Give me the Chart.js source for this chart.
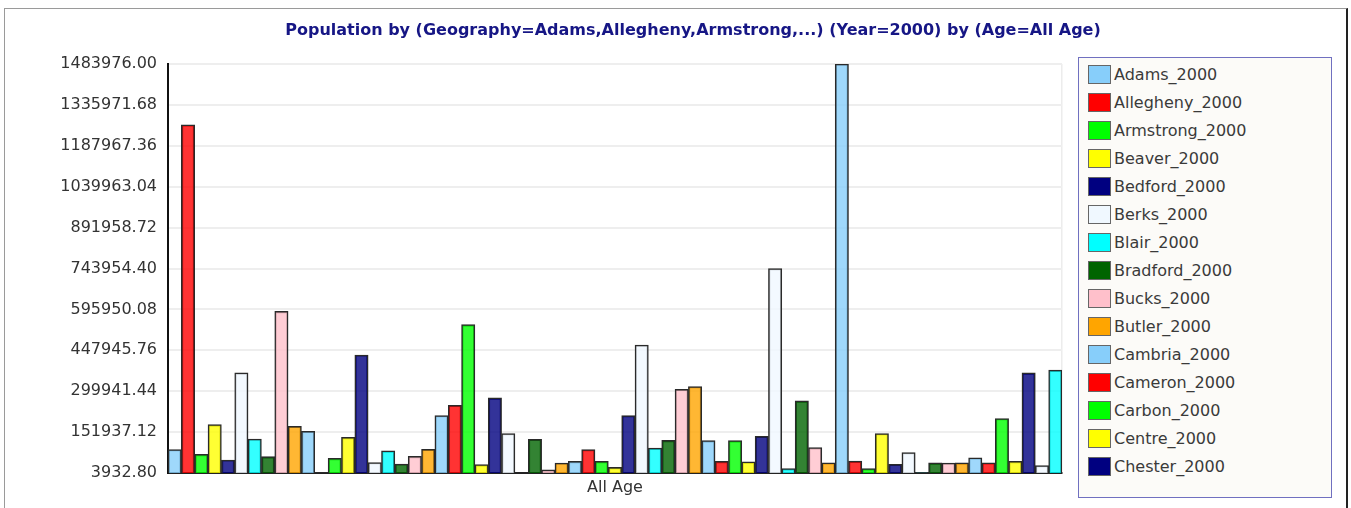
<!DOCTYPE html>
<html lang="en">
<head>
  <meta charset="UTF-8">
  <title>Population by Geography</title>
  <script src="https://cdn.jsdelivr.net/npm/chart.js"></script>
  <style>
    body { margin: 0; background: #fff; font-family: "DejaVu Sans", sans-serif; }
    .frame {
      position: absolute; left: 4px; top: 8px; width: 1341px; height: 500px;
      border-top: 1px solid #9a9a9a; border-left: 1px solid #9a9a9a; border-right: 2px solid #222;
    }
    #chart { position: absolute; left: 0; top: 0; }
    .legend {
      position: absolute; left: 1078px; top: 57px; width: 252px; height: 439px;
      border: 1px solid #7070c0; background: #fcfbf8; overflow: hidden;
    }
    .legend .item { position: absolute; left: 9px; height: 19px; display: flex; align-items: center; }
    .legend .box { width: 21px; height: 17px; border: 1px solid #666; margin-right: 3px; }
    .legend .txt { font-size: 16px; color: #3a3a3a; line-height: 19px; }
  </style>
</head>
<body>
  <div class="frame"></div>
  <canvas id="chart" width="1351" height="508"></canvas>
  <div class="legend" id="legend"></div>
  <script>
    const chartTitle = 'Population by (Geography=Adams,Allegheny,Armstrong,...) (Year=2000) by (Age=All Age)';
    const categories = ['All Age'];

    const counties = [
      'Adams', 'Allegheny', 'Armstrong', 'Beaver', 'Bedford', 'Berks', 'Blair', 'Bradford', 'Bucks', 'Butler',
      'Cambria', 'Cameron', 'Carbon', 'Centre', 'Chester', 'Clarion', 'Clearfield', 'Clinton', 'Columbia', 'Crawford',
      'Cumberland', 'Dauphin', 'Delaware', 'Elk', 'Erie', 'Fayette', 'Forest', 'Franklin', 'Fulton', 'Greene',
      'Huntingdon', 'Indiana', 'Jefferson', 'Juniata', 'Lackawanna', 'Lancaster', 'Lawrence', 'Lebanon', 'Lehigh', 'Luzerne',
      'Lycoming', 'McKean', 'Mercer', 'Mifflin', 'Monroe', 'Montgomery', 'Montour', 'Northampton', 'Northumberland', 'Perry',
      'Philadelphia', 'Pike', 'Potter', 'Schuylkill', 'Snyder', 'Somerset', 'Sullivan', 'Susquehanna', 'Tioga', 'Union',
      'Venango', 'Warren', 'Washington', 'Wayne', 'Westmoreland', 'Wyoming', 'York'
    ];

    // values (one bar per county)
    const population = [
      89000, 1264000, 71600, 179000, 51000, 366000, 127000, 63000, 589000, 173000,
      155000, 6000, 57000, 133000, 431000, 42000, 84000, 36500, 64000, 90000,
      212000, 249000, 541000, 34000, 276000, 147000, 4916, 126000, 15000, 40000,
      46000, 89000, 46000, 24000, 212000, 467000, 94000, 122000, 307000, 317000,
      121000, 46000, 121000, 44000, 137000, 744000, 20000, 265000, 96000, 41000,
      1483976, 47000, 20000, 147000, 35500, 78000, 6500, 40500, 40000, 40500,
      59000, 41000, 201000, 46000, 366000, 31000, 376000
    ];

    const yTicks = [3932.80, 151937.12, 299941.44, 447945.76, 595950.08, 743954.40,
      891958.72, 1039963.04, 1187967.36, 1335971.68, 1483976.00];

    const palette = ['#87cefa', '#ff0000', '#00ff00', '#ffff00', '#000080',
      '#f0f8ff', '#00ffff', '#006400', '#ffc0cb', '#ffa500'];

    function fade(hex, a) {
      const n = parseInt(hex.slice(1), 16);
      return `rgba(${n >> 16},${(n >> 8) & 255},${n & 255},${a})`;
    }

    const datasets = counties.map((c, i) => ({
      label: c + '_2000',
      data: [population[i]],
      backgroundColor: fade(palette[i % palette.length], 0.8),
      borderColor: '#2a2a2a',
      borderWidth: 1.5,
      categoryPercentage: 1,
      barPercentage: 1
    }));

    // title drawn centred over the whole frame
    const titlePlugin = {
      id: 'frameTitle',
      afterDraw(chart) {
        const ctx = chart.ctx;
        ctx.save();
        ctx.font = 'bold 16px "DejaVu Sans"';
        ctx.fillStyle = '#161685';
        ctx.textAlign = 'center';
        ctx.textBaseline = 'middle';
        ctx.fillText(chartTitle, 693, 31);
        ctx.restore();
      }
    };

    new Chart(document.getElementById('chart'), {
      type: 'bar',
      data: { labels: categories, datasets: datasets },
      options: {
        responsive: false,
        animation: false,
        layout: { padding: { left: 8, right: 289, top: 64, bottom: 5 } },
        plugins: { legend: { display: false }, tooltip: { enabled: false } },
        scales: {
          x: {
            grid: { color: '#ececec', lineWidth: 1.5, drawTicks: false },
            border: { color: '#222', width: 2 },
            ticks: { color: '#333', padding: 5, font: { family: 'DejaVu Sans', size: 16 } },
            afterFit(scale) { scale.height = 30; }
          },
          y: {
            min: yTicks[0],
            max: yTicks[yTicks.length - 1],
            grid: { color: '#eeeeee', lineWidth: 2, drawTicks: false },
            border: { color: '#111', width: 2 },
            ticks: {
              color: '#333', padding: 11, font: { family: 'DejaVu Sans', size: 16 },
              callback: v => Number(v).toFixed(2)
            },
            afterBuildTicks(scale) { scale.ticks = yTicks.map(v => ({ value: v })); },
            afterFit(scale) { scale.width = 160; }
          }
        }
      },
      plugins: [titlePlugin]
    });

    // legend box only has room for the first 15 entries
    const legend = document.getElementById('legend');
    counties.slice(0, 15).forEach((c, i) => {
      const item = document.createElement('div');
      item.className = 'item';
      item.style.top = (7 + 28 * i) + 'px';
      item.innerHTML = '<span class="box" style="background:' + palette[i % palette.length] + '"></span>' +
        '<span class="txt">' + c + '_2000</span>';
      legend.appendChild(item);
    });
  </script>
</body>
</html>
